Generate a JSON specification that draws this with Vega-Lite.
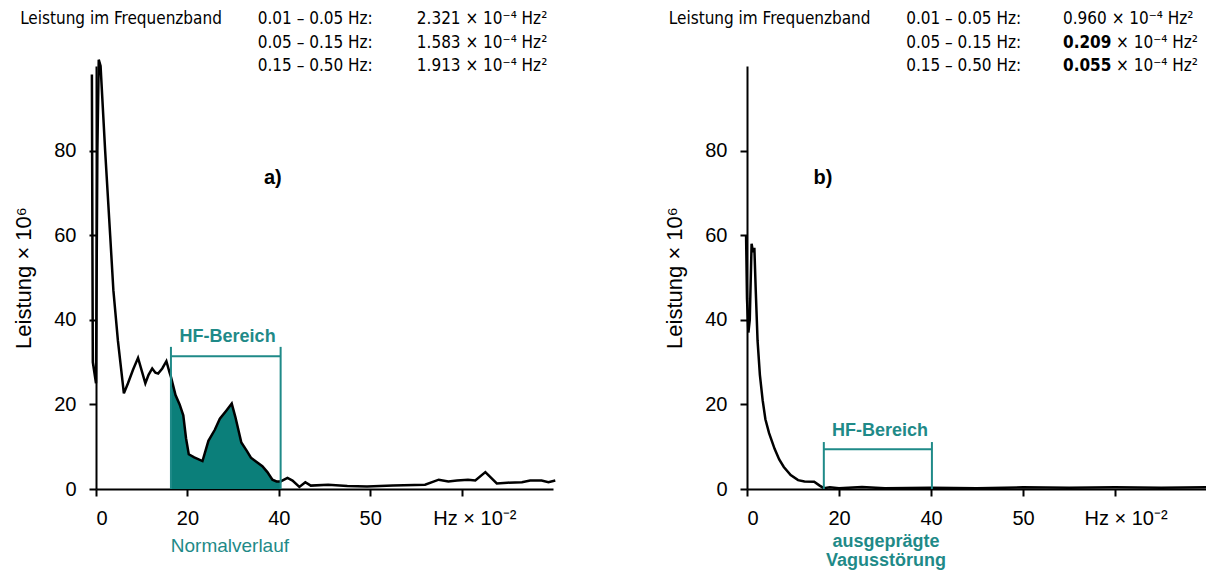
{
  "$schema": "https://vega.github.io/schema/vega-lite/v6.json",
  "background": "white",
  "padding": {"left": 12, "top": 10, "right": 0, "bottom": 0},
  "spacing": 102,
  "config": {
    "view": {"stroke": null},
    "axis": {"domainColor": "black", "domainWidth": 2, "tickColor": "black", "tickWidth": 2, "tickSize": 7, "labelFont": "Liberation Sans", "labelFontSize": 20, "labelColor": "black", "titleFont": "Liberation Sans", "titleFontSize": 22, "titleFontWeight": "normal", "titleColor": "black", "grid": false},
    "axisY": {"labelPadding": 13, "titlePadding": 18},
    "axisX": {"labelPadding": 12},
    "text": {"font": "Liberation Sans Narrow, Arial Narrow, DejaVu Sans Condensed, sans-serif", "fontSize": 17, "color": "black"}
  },
  "datasets": {
    "one": [{}],
    "curveA": [
      {"f": -0.9, "p": 98}, {"f": -0.7, "p": 30}, {"f": 0.0, "p": 25}, {"f": 0.3, "p": 80}, {"f": 0.6, "p": 101.5}, {"f": 1.0, "p": 100},
      {"f": 2.0, "p": 80}, {"f": 3.1, "p": 60}, {"f": 3.8, "p": 47}, {"f": 4.8, "p": 35}, {"f": 6.1, "p": 22.6}, {"f": 7.0, "p": 25},
      {"f": 8.1, "p": 28.2}, {"f": 9.2, "p": 31}, {"f": 10.0, "p": 28}, {"f": 10.8, "p": 25}, {"f": 11.5, "p": 27}, {"f": 12.3, "p": 28.5},
      {"f": 13.0, "p": 27.5}, {"f": 13.6, "p": 27.3}, {"f": 14.5, "p": 28.5}, {"f": 15.4, "p": 30.2}, {"f": 16.1, "p": 27.5}, {"f": 16.4, "p": 26.5},
      {"f": 17.4, "p": 22.2}, {"f": 18.3, "p": 20}, {"f": 19.1, "p": 17.4}, {"f": 19.7, "p": 12}, {"f": 20.3, "p": 8.2}, {"f": 21.5, "p": 7.5},
      {"f": 23.3, "p": 6.6}, {"f": 24.6, "p": 11.4}, {"f": 26.0, "p": 14}, {"f": 27.1, "p": 16.6}, {"f": 28.5, "p": 18.5}, {"f": 29.7, "p": 20.2},
      {"f": 30.5, "p": 17}, {"f": 31.8, "p": 11}, {"f": 33.0, "p": 9}, {"f": 33.9, "p": 7.4}, {"f": 35.0, "p": 6.5}, {"f": 36.4, "p": 5.4},
      {"f": 37.5, "p": 4}, {"f": 38.6, "p": 2.2}, {"f": 39.5, "p": 1.8}, {"f": 40.4, "p": 1.8}, {"f": 41.9, "p": 2.6}, {"f": 43.0, "p": 2},
      {"f": 44.5, "p": 0.5}, {"f": 45.8, "p": 1.6}, {"f": 47.0, "p": 0.8}, {"f": 50.8, "p": 1.0}, {"f": 55.0, "p": 0.7}, {"f": 59.3, "p": 0.6},
      {"f": 65.0, "p": 0.8}, {"f": 72.0, "p": 1.0}, {"f": 75.0, "p": 2.2}, {"f": 77.1, "p": 1.8}, {"f": 79.0, "p": 2.0}, {"f": 81.4, "p": 2.2},
      {"f": 83.0, "p": 2.0}, {"f": 85.2, "p": 4.0}, {"f": 87.7, "p": 1.3}, {"f": 90.0, "p": 1.5}, {"f": 93.2, "p": 1.6}, {"f": 95.0, "p": 2.0},
      {"f": 97.5, "p": 2.0}, {"f": 99.0, "p": 1.6}, {"f": 100.5, "p": 2.0}
    ],
    "hfA": [
      {"f": 16.4, "p": 26.5}, {"f": 17.4, "p": 22.2}, {"f": 18.3, "p": 20}, {"f": 19.1, "p": 17.4}, {"f": 19.7, "p": 12}, {"f": 20.3, "p": 8.2},
      {"f": 21.5, "p": 7.5}, {"f": 23.3, "p": 6.6}, {"f": 24.6, "p": 11.4}, {"f": 26.0, "p": 14}, {"f": 27.1, "p": 16.6}, {"f": 28.5, "p": 18.5},
      {"f": 29.7, "p": 20.2}, {"f": 30.5, "p": 17}, {"f": 31.8, "p": 11}, {"f": 33.0, "p": 9}, {"f": 33.9, "p": 7.4}, {"f": 35.0, "p": 6.5},
      {"f": 36.4, "p": 5.4}, {"f": 37.5, "p": 4}, {"f": 38.6, "p": 2.2}, {"f": 39.5, "p": 1.8}, {"f": 40.4, "p": 1.8}
    ],
    "curveB": [
      {"f": -0.2, "p": 60}, {"f": 0.0, "p": 45}, {"f": 0.3, "p": 37}, {"f": 0.6, "p": 40}, {"f": 1.0, "p": 58}, {"f": 1.3, "p": 56},
      {"f": 1.6, "p": 57}, {"f": 1.9, "p": 47}, {"f": 2.3, "p": 35}, {"f": 2.8, "p": 27}, {"f": 3.4, "p": 21}, {"f": 4.0, "p": 16.5},
      {"f": 4.8, "p": 13.2}, {"f": 6.0, "p": 9.5}, {"f": 7.0, "p": 7}, {"f": 8.0, "p": 5.2}, {"f": 9.5, "p": 3.3}, {"f": 11.1, "p": 2.1},
      {"f": 12.5, "p": 1.8}, {"f": 14.6, "p": 1.7}, {"f": 15.8, "p": 0.8}, {"f": 16.7, "p": 0.2}, {"f": 18.0, "p": 0.4}, {"f": 20.0, "p": 0.2},
      {"f": 25.0, "p": 0.5}, {"f": 30.0, "p": 0.2}, {"f": 40.0, "p": 0.3}, {"f": 50.0, "p": 0.2}, {"f": 60.0, "p": 0.4}, {"f": 70.0, "p": 0.3},
      {"f": 80.0, "p": 0.4}, {"f": 90.0, "p": 0.3}, {"f": 100.0, "p": 0.4}
    ]
  },
  "hconcat": [
    {
      "width": 457,
      "height": 423,
      "data": {"name": "one"},
      "layer": [
        {
          "data": {"name": "hfA"},
          "mark": {"type": "area", "color": "#0b7f7a", "opacity": 1},
          "encoding": {
            "x": {"field": "f", "type": "quantitative", "scale": {"domain": [0, 100], "nice": false, "zero": false}},
            "y": {"field": "p", "type": "quantitative", "scale": {"domain": [0, 100], "nice": false}}
          }
        },
        {
          "data": {"name": "curveA"},
          "mark": {"type": "line", "color": "black", "strokeWidth": 2.5},
          "encoding": {
            "x": {"field": "f", "type": "quantitative", "scale": {"domain": [0, 100], "nice": false, "zero": false},
              "axis": {"title": null, "values": [0, 20, 40, 60, 80], "labelExpr": "datum.value == 60 ? '50' : datum.value == 80 ? '' : datum.label"}},
            "y": {"field": "p", "type": "quantitative", "scale": {"domain": [0, 100], "nice": false},
              "axis": {"title": "Leistung × 10⁶", "values": [0, 20, 40, 60, 80]}},
            "order": {"field": "f"}
          }
        },
        {"mark": {"type": "rule", "color": "#1f8a88", "strokeWidth": 2}, "encoding": {"x": {"datum": 16.4}, "x2": {"datum": 40.4}, "y": {"datum": 31.4}}},
        {"mark": {"type": "rule", "color": "#1f8a88", "strokeWidth": 2}, "encoding": {"x": {"datum": 16.4}, "y": {"datum": 0}, "y2": {"datum": 33.6}}},
        {"mark": {"type": "rule", "color": "#1f8a88", "strokeWidth": 2}, "encoding": {"x": {"datum": 40.4}, "y": {"datum": 0}, "y2": {"datum": 33.6}}},
        {"mark": {"type": "text", "font": "Liberation Sans", "fontSize": 18, "fontWeight": "bold", "color": "#1f8a88"}, "encoding": {"x": {"datum": 28.8}, "y": {"datum": 36.0}, "text": {"value": "HF-Bereich"}}},
        {"mark": {"type": "text", "font": "Liberation Sans", "fontSize": 19, "color": "#1f8a88"}, "encoding": {"x": {"datum": 29.3}, "y": {"datum": -13.5}, "text": {"value": "Normalverlauf"}}},
        {"mark": {"type": "text", "font": "Liberation Sans", "fontSize": 20, "fontWeight": "bold"}, "encoding": {"x": {"datum": 38.7}, "y": {"datum": 73.5}, "text": {"value": "a)"}}},
        {"mark": {"type": "text", "font": "Liberation Sans", "fontSize": 20}, "encoding": {"x": {"datum": 82.9}, "y": {"datum": -7.1}, "text": {"value": "Hz × 10⁻²"}}},
        {"mark": {"type": "text", "align": "left"}, "encoding": {"x": {"datum": -16.6}, "y": {"datum": 111.0}, "text": {"value": "Leistung im Frequenzband"}}},
        {"mark": {"type": "text", "align": "left"}, "encoding": {"x": {"datum": 35.4}, "y": {"datum": 111.0}, "text": {"value": "0.01 – 0.05 Hz:"}}},
        {"mark": {"type": "text", "align": "left"}, "encoding": {"x": {"datum": 35.4}, "y": {"datum": 105.5}, "text": {"value": "0.05 – 0.15 Hz:"}}},
        {"mark": {"type": "text", "align": "left"}, "encoding": {"x": {"datum": 35.4}, "y": {"datum": 100.0}, "text": {"value": "0.15 – 0.50 Hz:"}}},
        {"mark": {"type": "text", "align": "left"}, "encoding": {"x": {"datum": 70.2}, "y": {"datum": 111.0}, "text": {"value": "2.321 × 10⁻⁴ Hz²"}}},
        {"mark": {"type": "text", "align": "left"}, "encoding": {"x": {"datum": 70.2}, "y": {"datum": 105.5}, "text": {"value": "1.583 × 10⁻⁴ Hz²"}}},
        {"mark": {"type": "text", "align": "left"}, "encoding": {"x": {"datum": 70.2}, "y": {"datum": 100.0}, "text": {"value": "1.913 × 10⁻⁴ Hz²"}}}
      ]
    },
    {
      "width": 460,
      "height": 423,
      "data": {"name": "one"},
      "layer": [
        {
          "data": {"name": "curveB"},
          "mark": {"type": "line", "color": "black", "strokeWidth": 2.5},
          "encoding": {
            "x": {"field": "f", "type": "quantitative", "scale": {"domain": [0, 100], "nice": false, "zero": false},
              "axis": {"title": null, "values": [0, 20, 40, 60, 80], "labelExpr": "datum.value == 60 ? '50' : datum.value == 80 ? '' : datum.label"}},
            "y": {"field": "p", "type": "quantitative", "scale": {"domain": [0, 100], "nice": false},
              "axis": {"title": "Leistung × 10⁶", "values": [0, 20, 40, 60, 80]}},
            "order": {"field": "f"}
          }
        },
        {"mark": {"type": "rule", "color": "#1f8a88", "strokeWidth": 2}, "encoding": {"x": {"datum": 16.7}, "x2": {"datum": 40.2}, "y": {"datum": 9.4}}},
        {"mark": {"type": "rule", "color": "#1f8a88", "strokeWidth": 2}, "encoding": {"x": {"datum": 16.7}, "y": {"datum": 0}, "y2": {"datum": 11.1}}},
        {"mark": {"type": "rule", "color": "#1f8a88", "strokeWidth": 2}, "encoding": {"x": {"datum": 40.2}, "y": {"datum": 0}, "y2": {"datum": 11.1}}},
        {"mark": {"type": "text", "font": "Liberation Sans", "fontSize": 18, "fontWeight": "bold", "color": "#1f8a88"}, "encoding": {"x": {"datum": 28.9}, "y": {"datum": 13.6}, "text": {"value": "HF-Bereich"}}},
        {"mark": {"type": "text", "font": "Liberation Sans", "fontSize": 18, "fontWeight": "bold", "color": "#1f8a88"}, "encoding": {"x": {"datum": 30.2}, "y": {"datum": -12.5}, "text": {"value": "ausgeprägte"}}},
        {"mark": {"type": "text", "font": "Liberation Sans", "fontSize": 18, "fontWeight": "bold", "color": "#1f8a88"}, "encoding": {"x": {"datum": 30.2}, "y": {"datum": -17.0}, "text": {"value": "Vagusstörung"}}},
        {"mark": {"type": "text", "font": "Liberation Sans", "fontSize": 20, "fontWeight": "bold"}, "encoding": {"x": {"datum": 16.5}, "y": {"datum": 73.5}, "text": {"value": "b)"}}},
        {"mark": {"type": "text", "font": "Liberation Sans", "fontSize": 20}, "encoding": {"x": {"datum": 82.4}, "y": {"datum": -7.1}, "text": {"value": "Hz × 10⁻²"}}},
        {"mark": {"type": "text", "align": "left"}, "encoding": {"x": {"datum": -17.0}, "y": {"datum": 111.0}, "text": {"value": "Leistung im Frequenzband"}}},
        {"mark": {"type": "text", "align": "left"}, "encoding": {"x": {"datum": 34.6}, "y": {"datum": 111.0}, "text": {"value": "0.01 – 0.05 Hz:"}}},
        {"mark": {"type": "text", "align": "left"}, "encoding": {"x": {"datum": 34.6}, "y": {"datum": 105.5}, "text": {"value": "0.05 – 0.15 Hz:"}}},
        {"mark": {"type": "text", "align": "left"}, "encoding": {"x": {"datum": 34.6}, "y": {"datum": 100.0}, "text": {"value": "0.15 – 0.50 Hz:"}}},
        {"mark": {"type": "text", "align": "left"}, "encoding": {"x": {"datum": 68.7}, "y": {"datum": 111.0}, "text": {"value": "0.960 × 10⁻⁴ Hz²"}}},
        {"mark": {"type": "text", "align": "left", "fontWeight": "bold"}, "encoding": {"x": {"datum": 68.7}, "y": {"datum": 105.5}, "text": {"value": "0.209"}}},
        {"mark": {"type": "text", "align": "left", "dx": 53}, "encoding": {"x": {"datum": 68.7}, "y": {"datum": 105.5}, "text": {"value": "× 10⁻⁴ Hz²"}}},
        {"mark": {"type": "text", "align": "left", "fontWeight": "bold"}, "encoding": {"x": {"datum": 68.7}, "y": {"datum": 100.0}, "text": {"value": "0.055"}}},
        {"mark": {"type": "text", "align": "left", "dx": 53}, "encoding": {"x": {"datum": 68.7}, "y": {"datum": 100.0}, "text": {"value": "× 10⁻⁴ Hz²"}}}
      ]
    }
  ]
}
